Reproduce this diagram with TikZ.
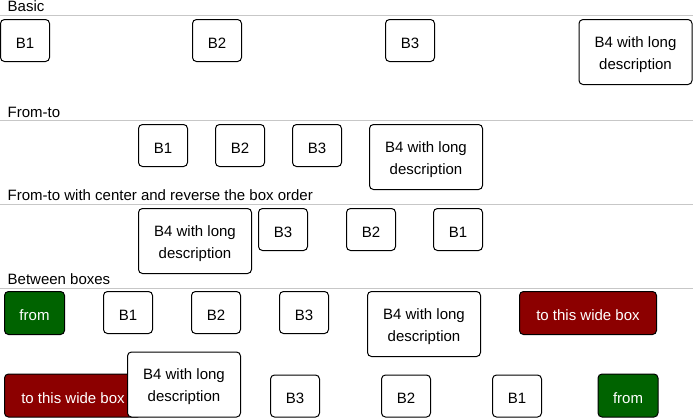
\documentclass[tikz,border=0pt]{standalone}
\usepackage{fontspec}
\setmainfont{Liberation Sans}
\usetikzlibrary{positioning}

% invisible strut that drops two-line box text a little
\newcommand{\toplift}{\rule{0pt}{16pt}}

\begin{document}
\begin{tikzpicture}[
    x=1pt, y=-1pt,
    every node/.style={font=\fontsize{15pt}{22pt}\selectfont},
    % section titles with a thin rule under them
    heading/.style={anchor=base west, inner sep=0pt},
    rule/.style={black!22, line width=1pt},
    % plain white boxes
    box/.style={
        rectangle,
        draw=black,
        fill=white,
        line width=1pt,
        rounded corners=4pt,
        inner sep=0pt,
        minimum width=49pt,
        minimum height=42pt,
        text height=15pt,
        text depth=0pt,
        anchor=north west
    },
    longbox/.style={box, align=center, minimum width=113pt, minimum height=65pt,
        text height={}, text depth={}},
    frombox/.style={box, fill=green!39!black, text=white, minimum width=60pt, minimum height=43pt},
    tobox/.style={box, fill=red!55!black, text=white, minimum width=137pt, minimum height=43pt}
]

\useasboundingbox (0,0) rectangle (693,418);

% Basic
\node[heading] (tBasic) at (7.5,11.5) {Basic};
\draw[rule] (0,15.5) -- (693,15.5);
\node[box] (a1) at (0,19) {B1};
\node[box] (a2) at (192,19) {B2};
\node[box] (a3) at (385,19) {B3};
\node[longbox] (a4) at (578.5,19) {\toplift B4 with long\\description};

% From-to
\node[heading] (tFromTo) at (7.5,117) {From-to};
\draw[rule] (0,120.5) -- (693,120.5);
\node[box] (f1) at (138,124) {B1};
\node[box, right=27pt of f1.north east, anchor=north west] (f2) {B2};
\node[box, right=27pt of f2.north east, anchor=north west] (f3) {B3};
\node[longbox, right=27pt of f3.north east, anchor=north west] (f4) {\toplift B4 with long\\description};

% From-to, centred and reversed
\node[heading] (tCenter) at (7.5,200) {From-to with center and reverse the box order};
\draw[rule] (0,204.5) -- (693,204.5);
\node[longbox] (c4) at (138,208) {\toplift B4 with long\\description};
\node[box, right=6pt of c4.north east, anchor=north west] (c3) {B3};
\node[box, right=38pt of c3.north east, anchor=north west] (c2) {B2};
\node[box, right=37pt of c2.north east, anchor=north west] (c1) {B1};

% Between boxes
\node[heading] (tBetween) at (7.5,284) {Between boxes};
\draw[rule] (0,288.5) -- (693,288.5);
\node[frombox] (bFrom) at (4,291) {from};
\node[box, right=38pt of bFrom.north east, anchor=north west] (b1) {B1};
\node[box, right=38pt of b1.north east, anchor=north west] (b2) {B2};
\node[box, right=38pt of b2.north east, anchor=north west] (b3) {B3};
\node[longbox, right=38pt of b3.north east, anchor=north west] (b4) {\toplift B4 with long\\description};
\node[tobox, right=38pt of b4.north east, anchor=north west] (bTo) {to this wide box};

% reversed, centres spread evenly, bottoms aligned
\node[tobox, anchor=south] (rTo) at (73,417.5) {to this wide box};
\node[longbox, anchor=south] (r4) at (184,417.5) {\toplift B4 with long\\description};
\node[box, anchor=south] (r3) at (295,417.5) {B3};
\node[box, anchor=south] (r2) at (406,417.5) {B2};
\node[box, anchor=south] (r1) at (517,417.5) {B1};
\node[frombox, anchor=south] (rFrom) at (628,417.5) {from};

\end{tikzpicture}
\end{document}
